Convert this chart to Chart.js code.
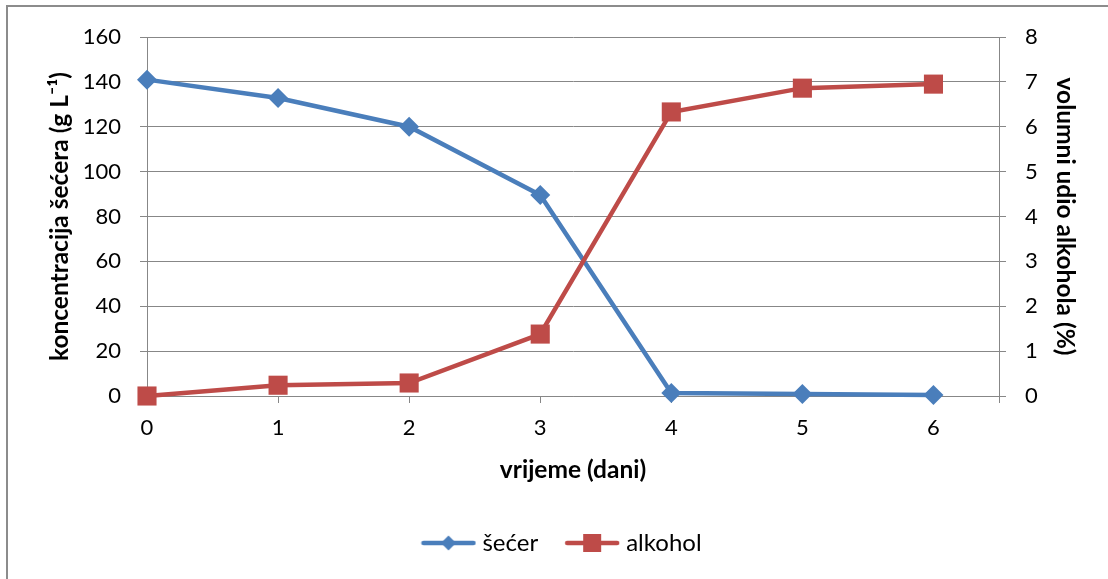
<!DOCTYPE html>
<html>
<head>
<meta charset="utf-8">
<script src="https://cdn.jsdelivr.net/npm/chart.js@4"></script>
<style>
  html, body { margin: 0; padding: 0; background: #ffffff; }
  #wrap { width: 1108px; height: 579px; position: relative; }
</style>
</head>
<body>
<div id="wrap"><canvas id="chart" width="1108" height="579"></canvas></div>
<script>
// data
const days = [0, 1, 2, 3, 4, 5, 6];
const sugar = [141, 132.8, 120, 89.6, 1.3, 0.9, 0.5];      // g/L
const alcohol = [0, 0.24, 0.29, 1.38, 6.33, 6.86, 6.95];   // % vol

const blue = '#4A7EBB';
const red = '#BE4B48';
const gridGray = '#878787';
const fontFamily = 'Lato, "Open Sans", sans-serif';

// legend icon: line with marker through it, like Excel
function legendIcon(color, shape) {
    const c = document.createElement('canvas');
    c.width = 56;
    c.height = 24;
    const g = c.getContext('2d');
    g.strokeStyle = color;
    g.lineWidth = 4.5;
    g.lineCap = 'round';
    g.beginPath();
    g.moveTo(3, 12);
    g.lineTo(53, 12);
    g.stroke();
    g.fillStyle = color;
    if (shape === 'diamond') {
        g.beginPath();
        g.moveTo(28, 4.5);
        g.lineTo(35.5, 12);
        g.lineTo(28, 19.5);
        g.lineTo(20.5, 12);
        g.closePath();
        g.fill();
    } else {
        g.fillRect(19, 3, 18, 18);
    }
    return c;
}

// grey frame round the whole chart (only top and left show in the picture)
const framePlugin = {
    id: 'frame',
    beforeDraw(chart) {
        const ctx = chart.ctx;
        ctx.save();
        ctx.strokeStyle = '#8c8c8c';
        ctx.lineWidth = 2;
        ctx.strokeRect(7, 6, 1300, 1300);
        ctx.restore();
    }
};

const ctx = document.getElementById('chart').getContext('2d');
const chart = new Chart(ctx, {
    type: 'line',
    data: {
        datasets: [{
            label: 'šećer',
            data: days.map((d, i) => ({ x: d, y: sugar[i] })),
            borderColor: blue,
            backgroundColor: blue,
            borderWidth: 4.5,
            pointStyle: 'rectRot',
            pointRadius: 10,
            pointBorderWidth: 0,
            pointBackgroundColor: blue,
            tension: 0,
            clip: false,
            yAxisID: 'y',
            order: 1
        }, {
            label: 'alkohol',
            data: days.map((d, i) => ({ x: d, y: alcohol[i] })),
            borderColor: red,
            backgroundColor: red,
            borderWidth: 4.5,
            pointStyle: 'rect',
            pointRadius: 13.5,
            pointBorderWidth: 0,
            pointBackgroundColor: red,
            tension: 0,
            clip: false,
            yAxisID: 'y1',
            order: 0
        }]
    },
    options: {
        responsive: false,
        animation: false,
        layout: {
            padding: { top: 37, left: 20, right: 0, bottom: 14 }
        },
        scales: {
            x: {
                type: 'linear',
                min: 0,
                max: 6.5,
                afterFit(scale) { scale.height = 103; },
                grid: {
                    drawOnChartArea: false,
                    drawTicks: true,
                    tickLength: 7,
                    color: gridGray
                },
                border: { color: gridGray, width: 1 },
                ticks: {
                    stepSize: 1,
                    padding: 12,
                    color: '#000',
                    font: { family: fontFamily, size: 22 },
                    callback: v => Number.isInteger(v) ? v : ''
                },
                title: {
                    display: true,
                    text: 'vrijeme (dani)',
                    color: '#000',
                    font: { family: fontFamily, size: 24.5, weight: 'bold' },
                    padding: { top: 0, bottom: 14 }
                }
            },
            y: {
                position: 'left',
                min: 0,
                max: 160,
                afterFit(scale) { scale.width = 127; },
                grid: {
                    color: gridGray,
                    tickLength: 7
                },
                border: { color: gridGray, width: 1 },
                ticks: {
                    stepSize: 20,
                    padding: 19,
                    color: '#000',
                    font: { family: fontFamily, size: 22 }
                },
                title: {
                    display: true,
                    text: 'koncentracija šećera (g L⁻¹)',
                    color: '#000',
                    font: { family: fontFamily, size: 24.5, weight: 'bold' },
                    padding: { top: 25, bottom: 0 }
                }
            },
            y1: {
                position: 'right',
                min: 0,
                max: 8,
                afterFit(scale) { scale.width = 109; },
                grid: {
                    drawOnChartArea: false,
                    color: gridGray,
                    tickLength: 7
                },
                border: { color: gridGray, width: 1 },
                ticks: {
                    stepSize: 1,
                    padding: 19,
                    color: '#000',
                    font: { family: fontFamily, size: 22 }
                },
                title: {
                    display: true,
                    text: 'volumni udio alkohola (%)',
                    color: '#000',
                    font: { family: fontFamily, size: 24.5, weight: 'bold' },
                    padding: { top: 28, bottom: 0 }
                }
            }
        },
        plugins: {
            legend: {
                position: 'bottom',
                labels: {
                    usePointStyle: true,
                    pointStyleWidth: 44,
                    padding: 32,
                    color: '#000',
                    font: { family: fontFamily, size: 24 },
                    sort: (a, b) => a.datasetIndex - b.datasetIndex,
                    generateLabels(chart) {
                        const icons = [legendIcon(blue, 'diamond'), legendIcon(red, 'square')];
                        return chart.data.datasets.map((ds, i) => ({
                            text: ds.label,
                            datasetIndex: i,
                            pointStyle: icons[i],
                            fillStyle: ds.borderColor,
                            strokeStyle: ds.borderColor,
                            fontColor: '#000',
                            lineWidth: 0,
                            hidden: false
                        }));
                    }
                }
            },
            tooltip: { enabled: false }
        }
    },
    plugins: [framePlugin]
});
</script>
</body>
</html>
